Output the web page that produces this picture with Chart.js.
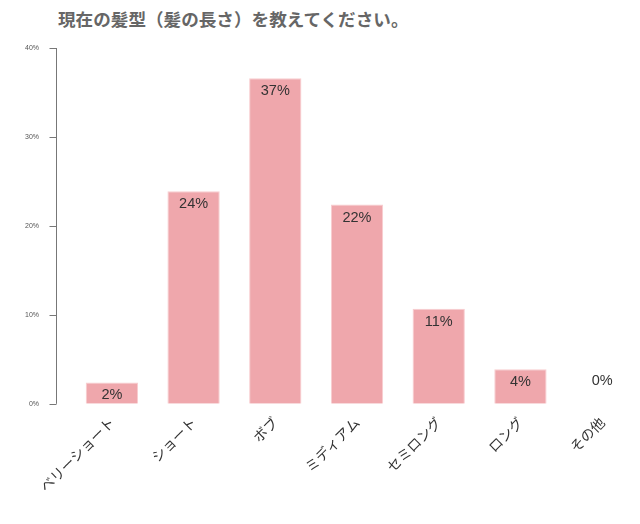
<!DOCTYPE html>
<html>
<head>
<meta charset="utf-8">
<script src="https://cdn.jsdelivr.net/npm/chart.js@4/dist/chart.umd.min.js"></script>
<style>
  html, body { margin: 0; padding: 0; background: #fff; overflow: hidden; }
  #title {
    position: absolute; left: 58px; top: 6px;
    font: bold 17.6px "Noto Sans CJK JP", sans-serif; color: #666;
    white-space: nowrap;
  }
  #wrap { position: absolute; left: 0; top: 0; width: 650px; height: 524px; }
</style>
</head>
<body>
<div id="title">現在の髪型（髪の長さ）を教えてください。</div>
<div id="wrap"><canvas id="hairChart"></canvas></div>
<script>
const categories = ['ベリーショート', 'ショート', 'ボブ', 'ミディアム', 'セミロング', 'ロング', 'その他'];
const shares = [2.4, 23.9, 36.6, 22.4, 10.7, 3.9, 0];
const yTicks = [0, 10, 20, 30, 40];

// value labels, inside the top of each bar (above the base when empty)
const valueLabels = {
  id: 'valueLabels',
  afterDatasetsDraw(chart) {
    const ctx = chart.ctx;
    const meta = chart.getDatasetMeta(0);
    const base = chart.scales.y.getPixelForValue(0);
    ctx.save();
    ctx.font = '14.5px "Liberation Sans", Arial, sans-serif';
    ctx.fillStyle = '#333';
    ctx.textAlign = 'center';
    ctx.textBaseline = 'middle';
    meta.data.forEach((bar, i) => {
      const v = shares[i];
      const y = v > 0 ? bar.y + 13 : base - 23;
      ctx.fillText(Math.round(v) + '%', bar.x, y);
    });
    ctx.restore();
  }
};

// y axis line drawn a little left of the plot area
const leftAxis = {
  id: 'leftAxis',
  afterDraw(chart) {
    const ctx = chart.ctx;
    const ys = chart.scales.y;
    const x = chart.chartArea.left - 14.5;
    ctx.save();
    ctx.strokeStyle = '#777';
    ctx.lineWidth = 1;
    ctx.beginPath();
    ctx.moveTo(x, ys.getPixelForValue(40));
    ctx.lineTo(x, ys.getPixelForValue(0));
    yTicks.forEach(t => {
      const y = Math.round(ys.getPixelForValue(t)) + 0.5;
      ctx.moveTo(x - 7, y);
      ctx.lineTo(x, y);
    });
    ctx.stroke();
    ctx.restore();
  }
};

new Chart(document.getElementById('hairChart'), {
  type: 'bar',
  data: {
    labels: categories,
    datasets: [{
      data: shares,
      backgroundColor: 'rgb(239,167,172)',
      borderColor: 'rgb(248,205,208)',
      borderWidth: 1,
      categoryPercentage: 0.64,
      barPercentage: 1
    }]
  },
  options: {
    responsive: true,
    maintainAspectRatio: false,
    animation: false,
    layout: { padding: { top: 48, left: 1, right: 7, bottom: 27 } },
    plugins: {
      legend: { display: false },
      tooltip: { enabled: false }
    },
    scales: {
      x: {
        grid: { display: false },
        border: { display: false },
        ticks: {
          minRotation: 45, maxRotation: 45,
          color: '#333',
          padding: 2,
          font: { size: 14, family: '"Noto Sans CJK JP", sans-serif' }
        }
      },
      y: {
        min: 0, max: 40,
        afterBuildTicks: s => { s.ticks = yTicks.map(v => ({ value: v })); },
        grid: { display: false },
        border: { display: false },
        ticks: {
          color: '#555',
          padding: 24,
          font: { size: 7, family: '"Liberation Sans", Arial, sans-serif' },
          callback: v => v + '%'
        }
      }
    }
  },
  plugins: [valueLabels, leftAxis]
});
</script>
</body>
</html>
